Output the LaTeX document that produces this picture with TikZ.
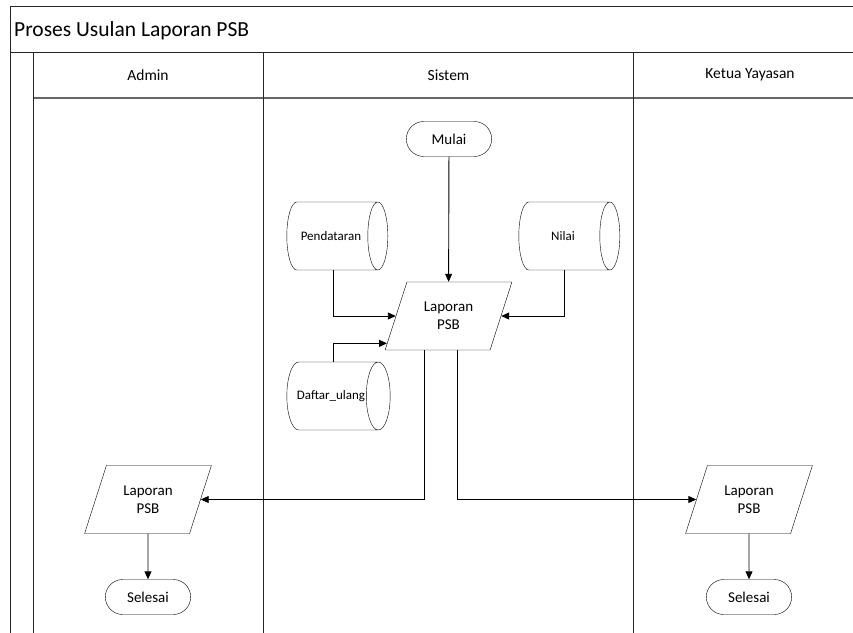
\documentclass[tikz,border=0pt]{standalone}
\usepackage{fontspec}
\setmainfont{Carlito}
\usetikzlibrary{shapes.geometric,shapes.misc,arrows.meta,calc}

\begin{document}
\begin{tikzpicture}[x=1pt,y=-1pt,
    lane/.style={draw=black!85,line width=1pt},
    terminal/.style={draw,rounded rectangle,minimum width=92pt,minimum height=35pt,
      font=\fontsize{15}{17}\selectfont},
    io/.style={draw,trapezium,trapezium left angle=65,trapezium right angle=115,
      trapezium stretches=true,minimum width=127pt,minimum height=68pt,
      align=center,inner sep=0pt,font=\fontsize{15}{18}\selectfont},
    store/.style={draw,cylinder,aspect=1.8,minimum width=68pt,minimum height=101pt,
      inner sep=1pt,font=\fontsize{13}{15}\selectfont},
    flow/.style={-{Triangle[length=8pt,width=7pt]},line width=0.9pt}]
  \useasboundingbox (0,0) rectangle (853,632);
  \clip (0,0) rectangle (853,632);

  % pool and swimlanes
  \draw[lane] (10,6) rectangle (870,650);
  \draw[lane] (10,52) -- (870,52);
  \draw[lane,draw=black!60,line width=1.6pt] (33,98) -- (870,98);
  \draw[lane] (33,52) -- (33,650);
  \draw[lane] (263,52) -- (263,650);
  \draw[lane] (633,52) -- (633,650);
  \node[anchor=west,inner sep=0pt,font=\fontsize{21.5}{24}\selectfont] (title) at (14,31) {Proses Usulan Laporan PSB};
  \node[font=\fontsize{15.5}{17}\selectfont] (admin) at (148,75) {Admin};
  \node[font=\fontsize{15.5}{17}\selectfont] (sistem) at (448.5,75) {Sistem};
  \node[font=\fontsize{15.5}{17}\selectfont] (ketua) at (750,75) {Ketua Yayasan};

  % flow nodes
  \node[terminal] (mulai) at (449,139) {Mulai};
  \node[io] (lap) at (448.5,316) {Laporan\\PSB};
  \node[store] (pend) at (331,236) {Pendataran};
  \node[store] (nilai) at (563,236) {Nilai};
  \node[store] (daftar) at (331,396) {Daftar\_ulang};
  \node[io] (lapadmin) at (148,499.5) {Laporan\\PSB};
  \node[terminal] (endadmin) at (148,597) {Selesai};
  \node[io] (lapketua) at (749,499.5) {Laporan\\PSB};
  \node[terminal] (endketua) at (749,597) {Selesai};

  \begin{scope}[flow]
    \draw (mulai) -- (lap);
    \draw ([xshift=2pt]pend.south) |- (lap);
    \draw ([xshift=1pt]nilai.south) |- (lap);
    \draw ([xshift=2pt]daftar.north) |- ($(lap.bottom left corner)!0.1!(lap.top left corner)$);
    \draw ([xshift=-24pt]lap.south) |- (lapadmin);
    \draw ([xshift=9pt]lap.south) |- (lapketua);
    \draw (lapadmin) -- (endadmin);
    \draw (lapketua) -- (endketua);
  \end{scope}
\end{tikzpicture}
\end{document}
